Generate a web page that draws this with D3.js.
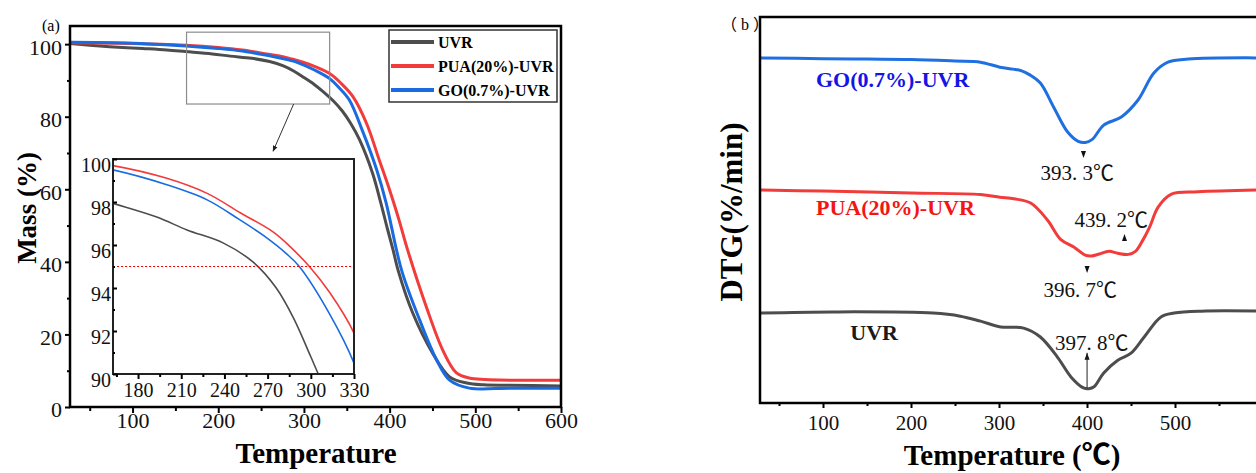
<!DOCTYPE html>
<html>
<head>
<meta charset="utf-8">
<title>TGA / DTG</title>
<style>
  body { margin: 0; background: #fff; }
  text { font-family: "Liberation Serif", "Noto Sans CJK SC", serif; }
</style>
</head>
<body>
<script src="https://cdn.jsdelivr.net/npm/d3@7"></script>
<script>

// ---- data ----
var seriesNames = ["UVR", "PUA(20%)-UVR", "GO(0.7%)-UVR"];
var lineColors = ["#4d4d4d", "#f23b3b", "#1a6be0"];

// panel (a): mass (%) vs temperature
var massUVR = [[27,100.2],[50,99.7],[73,99.3],[112,98.8],[140,98.4],[162,97.95],[193,97.3],[214,96.7],
  [239,96.1],[260,95.2],[276,94.0],[288,92.6],[300,90.8],[312,88.9],[322,87.0],[335,84.2],[345,81.5],
  [355,78.0],[365,73.6],[380,64.5],[390,56.0],[397,49.5],[404,43.3],[410,37.6],[427,25.9],[450,14.9],
  [470,8.3],[490,6.6],[510,6.1],[540,6.0],[600,5.8]];
var massPUA = [[27,100.4],[100,100.2],[162,99.7],[200,99.1],[228,98.4],[251,97.5],[274,96.6],[286,95.9],[299,95.0],
  [313,93.8],[330,91.9],[343,89.3],[357,85.6],[373,78.2],[388,68.0],[400,59.8],[411,51.5],[421,43.3],
  [443,27.5],[462,15.7],[478,9.4],[493,8.0],[540,7.4],[600,7.4]];
var massGO = [[27,100.5],[93,100.3],[162,99.5],[200,98.8],[228,98.1],[250,97.2],[268,96.4],[283,95.6],[292,95.0],
  [313,92.8],[330,90.5],[341,88.0],[353,84.6],[368,76.3],[385,65.3],[396,56.2],[408,43.3],[415,36.9],
  [435,24.0],[455,12.9],[470,7.4],[493,5.2],[540,5.2],[600,5.2]];

// panel (b): DTG, arbitrary stacked units
var dtgUVR = [[28,23.3],[111,23.6],[225,23.3],[256,22.5],[279,21.2],[302,19.7],[328,19.4],[347,17.1],
  [367,11.7],[382,6.7],[396,3.9],[402,3.7],[408,4.2],[419,7.8],[435,11.1],[450,12.9],[465,17.1],
  [484,22.3],[499,23.3],[530,23.8],[600,23.8]];
var dtgPUA = [[28,55.2],[100,54.9],[200,54.4],[279,54.0],[301,53.3],[317,52.9],[336,51.8],[355,47.4],
  [370,42.4],[385,40.4],[398,38.3],[405,38.1],[414,38.6],[425,39.3],[435,38.8],[447,38.5],[455,39.3],
  [463,42.0],[471,45.5],[481,50.8],[496,54.1],[526,54.7],[600,55.2]];
var dtgGO = [[28,89.4],[100,89.2],[150,89.1],[200,89.0],[250,88.6],[279,88.3],[301,87.0],[316,86.5],
  [325,86.1],[335,85.0],[347,82.9],[362,76.7],[378,70.2],[390,67.8],[398,67.5],[406,68.3],[419,72.0],
  [439,74.1],[458,78.5],[476,85.5],[492,88.3],[515,89.1],[600,89.4]];

var xTicksA = [100, 200, 300, 400, 500, 600];
var xMinorA = [50, 150, 250, 350, 450, 550];
var yTicksA = [0, 20, 40, 60, 80, 100];
var yMinorA = [10, 30, 50, 70, 90];
var xTicksInset = [180, 210, 240, 270, 300, 330];
var xMinorInset = [165, 195, 225, 255, 285, 315];
var yTicksInset = [90, 92, 94, 96, 98, 100];
var yMinorInset = [91, 93, 95, 97, 99];
var xTicksB = [100, 200, 300, 400, 500];
var xMinorB = [50, 150, 250, 350, 450, 550, 600];

var peakLabels = [
  { text: "393. 3\u2103", t: 389, v: 57.8 },
  { text: "439. 2\u2103", t: 427.6, v: 45.6 },
  { text: "396. 7\u2103", t: 392.4, v: 27.5 },
  { text: "397. 8\u2103", t: 405.5, v: 13.7 }
];

var width = 1256, height = 473;

var svg = d3.select("body").append("svg")
  .attr("width", width)
  .attr("height", height);

svg.append("rect").attr("width", width).attr("height", height).attr("fill", "#fff");

function styleAxis(g, size) {
  g.select(".domain").remove();
  g.selectAll("line").attr("stroke", "#000").attr("stroke-width", 2);
  g.selectAll("text").attr("font-size", size).attr("fill", "#111");
}

var line = function (x, y) {
  return d3.line().x(d => x(d[0])).y(d => y(d[1])).curve(d3.curveCatmullRom.alpha(0.5));
};

// ================= panel (a) =================
var xA = d3.scaleLinear().domain([27, 600]).range([70, 561]);
var yA = d3.scaleLinear().domain([0, 105]).range([407, 26]);

var massSeries = [massUVR, massPUA, massGO];

svg.append("g").selectAll("path")
  .data(massSeries)
  .enter()
  .append("path")
  .attr("d", line(xA, yA))
  .attr("fill", "none")
  .attr("stroke", (d, i) => lineColors[i])
  .attr("stroke-width", 3);

svg.append("rect")
  .attr("x", 70).attr("y", 26)
  .attr("width", 491).attr("height", 381)
  .attr("fill", "none").attr("stroke", "#000").attr("stroke-width", 2.5);

var gxA = svg.append("g").attr("transform", "translate(0,407)")
  .call(d3.axisBottom(xA).tickValues(xTicksA).tickSize(6).tickFormat(d3.format("d")))
  .call(styleAxis, 22);
gxA.selectAll("text").attr("y", 21).attr("dy", null);
svg.append("g").attr("transform", "translate(0,407)")
  .call(d3.axisBottom(xA).tickValues(xMinorA).tickSize(4).tickFormat(""))
  .call(styleAxis, 22);

var gyA = svg.append("g").attr("transform", "translate(70,0)")
  .call(d3.axisLeft(yA).tickValues(yTicksA).tickSize(5))
  .call(styleAxis, 22);
gyA.selectAll("text").attr("dy", "0.45em");
svg.append("g").attr("transform", "translate(70,0)")
  .call(d3.axisLeft(yA).tickValues(yMinorA).tickSize(3).tickFormat(""))
  .call(styleAxis, 22);

svg.append("text").attr("x", 42).attr("y", 31).attr("font-size", 16).text("(a)");

svg.append("text")
  .attr("transform", "translate(36,208) rotate(-90)")
  .attr("text-anchor", "middle")
  .attr("font-size", 27).attr("font-weight", "bold")
  .text("Mass (%)");

svg.append("text")
  .attr("x", 316).attr("y", 463)
  .attr("text-anchor", "middle")
  .attr("font-size", 29).attr("font-weight", "bold")
  .text("Temperature");

// zoom box and arrow
svg.append("rect")
  .attr("x", xA(163)).attr("y", yA(103.3))
  .attr("width", xA(330) - xA(163)).attr("height", yA(83.5) - yA(103.3))
  .attr("fill", "none").attr("stroke", "#8c8c8c").attr("stroke-width", 1.2);

svg.append("defs").append("marker")
  .attr("id", "head").attr("viewBox", "0 0 10 10")
  .attr("refX", 9).attr("refY", 5)
  .attr("markerWidth", 6).attr("markerHeight", 6)
  .attr("orient", "auto")
  .append("path").attr("d", "M0,1 L10,5 L0,9 Z").attr("fill", "#222");

svg.append("line")
  .attr("x1", xA(288)).attr("y1", yA(83.5))
  .attr("x2", xA(264)).attr("y2", yA(70.5))
  .attr("stroke", "#333").attr("stroke-width", 1)
  .attr("marker-end", "url(#head)");

// legend
var legend = svg.append("g");
legend.append("rect")
  .attr("x", 389).attr("y", 30).attr("width", 168).attr("height", 72)
  .attr("fill", "#fff").attr("stroke", "#333").attr("stroke-width", 1.5);
seriesNames.forEach(function (name, i) {
  var y = 42 + i * 24;
  legend.append("line")
    .attr("x1", 391).attr("x2", 434).attr("y1", y).attr("y2", y)
    .attr("stroke", lineColors[i]).attr("stroke-width", 4);
  legend.append("text")
    .attr("x", 438).attr("y", y).attr("dy", "0.36em")
    .attr("font-size", 16).attr("font-weight", "bold")
    .text(name);
});

// inset
var xI = d3.scaleLinear().domain([162.6, 330]).range([113, 354]);
var yI = d3.scaleLinear().domain([90, 100]).range([374, 159]);

svg.append("rect")
  .attr("x", 113).attr("y", 159).attr("width", 241).attr("height", 215)
  .attr("fill", "#fff");

svg.select("defs").append("clipPath").attr("id", "insetClip")
  .append("rect").attr("x", 113).attr("y", 159).attr("width", 241).attr("height", 215);

var inset = svg.append("g").attr("clip-path", "url(#insetClip)");
inset.selectAll("path")
  .data(massSeries)
  .enter()
  .append("path")
  .attr("d", line(xI, yI))
  .attr("fill", "none")
  .attr("stroke", (d, i) => lineColors[i])
  .attr("stroke-width", 1.6);

inset.append("line")
  .attr("x1", 113).attr("x2", 354)
  .attr("y1", yI(95)).attr("y2", yI(95))
  .attr("stroke", "#f00").attr("stroke-width", 1.2)
  .attr("stroke-dasharray", "2,2");

svg.append("rect")
  .attr("x", 113).attr("y", 159).attr("width", 241).attr("height", 215)
  .attr("fill", "none").attr("stroke", "#222").attr("stroke-width", 2);

var gxI = svg.append("g").attr("transform", "translate(0,374)")
  .call(d3.axisBottom(xI).tickValues(xTicksInset).tickSize(5))
  .call(styleAxis, 20);
gxI.selectAll("text").attr("y", 23).attr("dy", null);
svg.append("g").attr("transform", "translate(0,374)")
  .call(d3.axisBottom(xI).tickValues(xMinorInset).tickSize(3).tickFormat(""))
  .call(styleAxis, 20);

var gyI = svg.append("g").attr("transform", "translate(113,0)")
  .call(d3.axisLeft(yI).tickValues(yTicksInset).tickSize(-4).tickPadding(2))
  .call(styleAxis, 20);
gyI.selectAll("text").attr("dy", "0.6em");
svg.append("g").attr("transform", "translate(113,0)")
  .call(d3.axisLeft(yI).tickValues(yMinorInset).tickSize(-2).tickFormat(""))
  .call(styleAxis, 20);

// ================= panel (b) =================
var xB = d3.scaleLinear().domain([28.4, 600]).range([760, 1263]);
var yB = d3.scaleLinear().domain([0, 100]).range([403, 17]);

var dtgSeries = [dtgUVR, dtgPUA, dtgGO];
var dtgColors = ["#4d4d4d", "#f23b3b", "#1f6fe0"];

svg.append("g").selectAll("path")
  .data(dtgSeries)
  .enter()
  .append("path")
  .attr("d", line(xB, yB))
  .attr("fill", "none")
  .attr("stroke", (d, i) => dtgColors[i])
  .attr("stroke-width", 3);

svg.append("rect")
  .attr("x", 760).attr("y", 17)
  .attr("width", 503).attr("height", 386)
  .attr("fill", "none").attr("stroke", "#000").attr("stroke-width", 2.5);

var gxB = svg.append("g").attr("transform", "translate(0,403)")
  .call(d3.axisBottom(xB).tickValues(xTicksB).tickSize(5).tickFormat(d3.format("d")))
  .call(styleAxis, 21);
gxB.selectAll("text").attr("y", 27).attr("dy", null);
svg.append("g").attr("transform", "translate(0,403)")
  .call(d3.axisBottom(xB).tickValues(xMinorB).tickSize(3).tickFormat(""))
  .call(styleAxis, 21);

svg.append("text").attr("x", 721).attr("y", 30)
  .attr("font-size", 16)
  .style("letter-spacing", "4px")
  .text("\uff08b\uff09");

svg.append("text")
  .attr("transform", "translate(742,212) rotate(-90)")
  .attr("text-anchor", "middle")
  .attr("font-size", 31).attr("font-weight", "bold")
  .text("DTG(%/min)");

svg.append("text")
  .attr("x", 1012).attr("y", 465)
  .attr("text-anchor", "middle")
  .attr("font-size", 29).attr("font-weight", "bold")
  .text("Temperature (\u2103)");

// curve names
var curveNames = [
  { text: "GO(0.7%)-UVR", t: 92, v: 81.9, color: "#1414e6" },
  { text: "PUA(20%)-UVR", t: 92, v: 48.7, color: "#f51414" },
  { text: "UVR", t: 131, v: 16.3, color: "#1a1a1a" }
];
svg.append("g").selectAll("text")
  .data(curveNames)
  .enter()
  .append("text")
  .attr("x", d => xB(d.t)).attr("y", d => yB(d.v))
  .attr("font-size", 22).attr("font-weight", "bold")
  .attr("fill", d => d.color)
  .text(d => d.text);

// peak labels
svg.append("g").selectAll("text")
  .data(peakLabels)
  .enter()
  .append("text")
  .attr("x", d => xB(d.t)).attr("y", d => yB(d.v))
  .attr("text-anchor", "middle")
  .attr("font-size", 21)
  .attr("fill", "#111")
  .text(d => d.text);

// small arrow heads near the peaks
function tri(x, yTip, dir) {
  // dir = 1 points down, -1 points up
  var h = 7 * dir;
  return "M" + (x - 2.5) + "," + (yTip - h) + " L" + (x + 2.5) + "," + (yTip - h) + " L" + x + "," + yTip + " Z";
}
var arrows = svg.append("g").attr("fill", "#111");
arrows.append("path").attr("d", tri(xB(396), yB(63.5), 1));
arrows.append("path").attr("d", tri(xB(396.7) + 3, yB(33.7), 1));
arrows.append("path").attr("d", tri(xB(439.2) + 3, yB(43.8), -1));

svg.append("line")
  .attr("x1", xB(397.8) + 2).attr("y1", yB(3.9))
  .attr("x2", xB(397.8) + 2).attr("y2", yB(13.0))
  .attr("stroke", "#222").attr("stroke-width", 1);
arrows.append("path").attr("d", tri(xB(397.8) + 2, yB(13.0), -1));

</script>
</body>
</html>
